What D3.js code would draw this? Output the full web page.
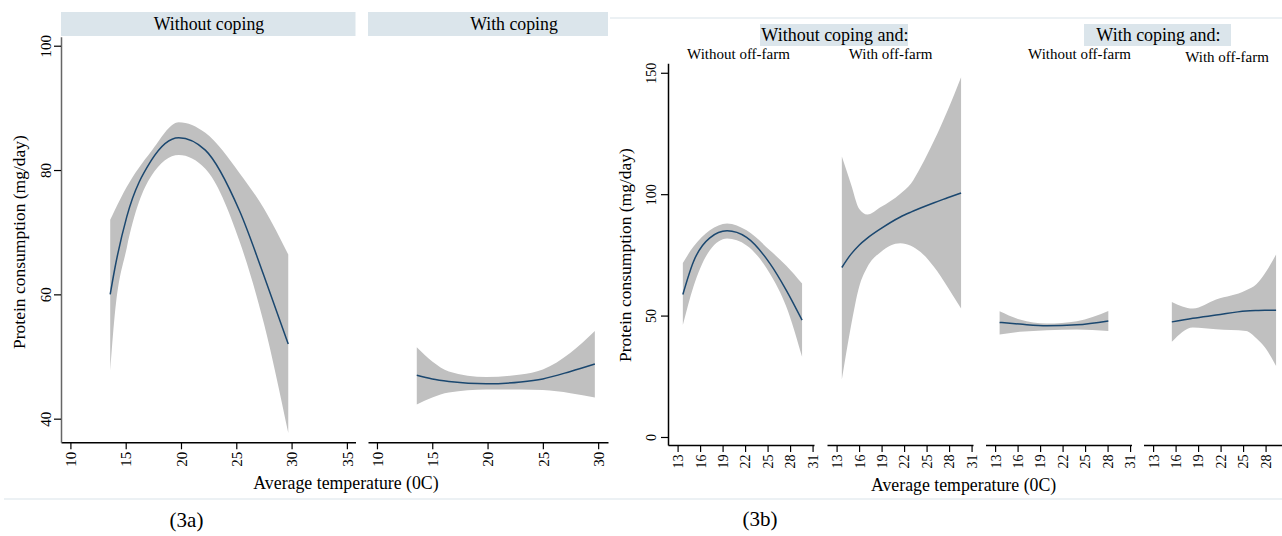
<!DOCTYPE html>
<html>
<head>
<meta charset="utf-8">
<script src="https://cdn.jsdelivr.net/npm/d3@7/dist/d3.min.js"></script>
<style>
  body { margin: 0; background: #fff; }
  text { font-family: "Liberation Serif", "Times New Roman", serif; fill: #000; }
</style>
</head>
<body>
<script>
// ---- data ----

// (3a) without coping
var tempA1 = [13.6, 14.0, 15.1, 17.3, 19.8, 22.2, 25.3, 27.5, 29.7];
var fitA1  = [60.0, 64.0, 72.5, 81.5, 85.2, 83.2, 73.4, 63.0, 52.0];
var loA1   = [47.7, 56.5, 67.5, 79.0, 82.4, 80.2, 68.5, 55.3, 37.7];
var hiA1   = [72.0, 73.5, 77.3, 83.0, 87.7, 86.0, 79.5, 73.8, 66.4];

// (3a) with coping
var tempA2 = [13.6, 15.0, 16.5, 19.9, 23.0, 25.0, 27.5, 29.7];
var fitA2  = [47.0, 46.4, 46.0, 45.6, 45.9, 46.4, 47.6, 48.8];
var loA2   = [42.3, 43.4, 44.2, 44.7, 44.7, 44.6, 44.1, 43.4];
var hiA2   = [51.5, 49.2, 47.6, 46.7, 47.1, 47.9, 50.6, 54.1];

// (3b) without coping, without off-farm
var tempB1 = [13.7, 15.1, 17.3, 19.6, 22.2, 25.3, 27.5, 29.6];
var fitB1  = [58.7, 72.1, 82.0, 84.9, 82.2, 71.5, 60.4, 48.1];
var loB1   = [46.1, 61.8, 76.9, 81.7, 78.9, 67.3, 53.6, 33.0];
var hiB1   = [71.7, 78.3, 85.1, 87.9, 85.1, 76.9, 70.5, 63.2];

// (3b) without coping, with off-farm
var tempB2 = [13.7, 14.9, 16.0, 17.1, 18.9, 21.5, 22.9, 24.2, 26.0, 27.8, 29.6];
var fitB2  = [69.8, 75.2, 79.0, 81.9, 85.8, 90.6, 92.6, 94.3, 96.5, 98.5, 100.5];
var loB2   = [23.7, 45.4, 61.8, 70.0, 76.2, 79.8, 78.8, 76.2, 70.0, 61.8, 52.9];
var hiB2   = [115.5, 104.3, 94.0, 91.6, 94.7, 100.2, 104.3, 111.1, 122.1, 134.5, 148.2];

// (3b) with coping, without off-farm
var tempB3 = [13.6, 16.3, 19.9, 23.9, 28.1];
var fitB3  = [47.2, 46.5, 45.8, 46.2, 47.8];
var loB3   = [42.2, 43.3, 44.0, 44.3, 43.6];
var hiB3   = [51.8, 48.4, 46.7, 47.7, 51.9];

// (3b) with coping, with off-farm
var tempB4 = [15.5, 18.3, 21.4, 25.4, 26.8, 27.9, 29.4];
var fitB4  = [47.4, 48.9, 50.2, 51.9, 52.1, 52.2, 52.2];
var loB4   = [39.2, 45.1, 44.4, 43.7, 40.6, 37.0, 29.2];
var hiB4   = [55.6, 52.9, 56.6, 60.4, 63.0, 67.3, 75.2];

var xTicksA1 = [10, 15, 20, 25, 30, 35];
var xTicksA2 = [10, 15, 20, 25, 30];
var xTicksB  = [13, 16, 19, 22, 25, 28, 31];
var yTicksA  = [40, 60, 80, 100];
var yTicksB  = [0, 50, 100, 150];

var stripA   = ["Without coping", "With coping"];
var groupB   = ["Without coping and:", "With coping and:"];
var subB     = ["Without off-farm", "With off-farm", "Without off-farm", "With off-farm"];

var yTitle = "Protein consumption (mg/day)";
var xTitle = "Average temperature (0C)";

// ---- styles ----
var lineColor = "#1a476f";
var bandColor = "#c0c0c0";
var stripColor = "#dbe5eb";
var ruleColor = "#e6edf1";

var svg = d3.select("body")
            .append("svg")
            .attr("width", 1282)
            .attr("height", 536);

function series(t, fit, lo, hi) {
    return t.map((d, i) => ({ t: d, fit: fit[i], lo: lo[i], hi: hi[i] }));
}

function drawPanel(x, y, data) {
    var area = d3.area()
                 .x((d) => x(d.t))
                 .y0((d) => y(d.lo))
                 .y1((d) => y(d.hi))
                 .curve(d3.curveMonotoneX);
    var line = d3.line()
                 .x((d) => x(d.t))
                 .y((d) => y(d.fit))
                 .curve(d3.curveMonotoneX);
    svg.append("path")
       .datum(data)
       .attr("fill", bandColor)
       .attr("d", area);
    svg.append("path")
       .datum(data)
       .attr("fill", "none")
       .attr("stroke", lineColor)
       .attr("stroke-width", 1.5)
       .attr("d", line);
}

function drawXAxis(x, ticks, yPos, fontSize) {
    var g = svg.append("g")
               .attr("transform", "translate(0," + yPos + ")")
               .call(d3.axisBottom(x).tickValues(ticks).tickSize(7).tickSizeOuter(0));
    g.select(".domain").attr("stroke", "#000").attr("stroke-width", 1.4);
    g.selectAll(".tick line").attr("stroke", "#000").attr("stroke-width", 1.2);
    g.selectAll(".tick text")
     .attr("font-family", "Liberation Serif")
     .attr("font-size", fontSize)
     .attr("fill", "#000")
     .attr("y", 0)
     .attr("x", -9.5)
     .attr("dy", "0.35em")
     .attr("text-anchor", "end")
     .attr("transform", "rotate(-90)");
}

function drawYAxis(y, ticks, xPos, fontSize, gap, color) {
    var g = svg.append("g")
               .attr("transform", "translate(" + xPos + ",0)")
               .call(d3.axisLeft(y).tickValues(ticks).tickSize(7).tickSizeOuter(0));
    g.select(".domain").attr("stroke", color).attr("stroke-width", 1.5);
    g.selectAll(".tick line").attr("stroke", "#000").attr("stroke-width", 1.2);
    g.selectAll(".tick text")
     .attr("font-family", "Liberation Serif")
     .attr("font-size", fontSize)
     .attr("fill", "#000")
     .attr("x", 0)
     .attr("y", 0)
     .attr("dy", 0)
     .attr("text-anchor", "middle")
     .attr("transform", "translate(" + (-gap) + ",0) rotate(-90)");
}

function label(x, y, txt, size, rotate) {
    var t = svg.append("text")
               .attr("font-size", size)
               .attr("text-anchor", "middle")
               .text(txt);
    if (rotate) {
        t.attr("transform", "translate(" + x + "," + y + ") rotate(-90)");
    } else {
        t.attr("x", x).attr("y", y);
    }
    return t;
}

// ---- light rules framing the two figures ----
svg.append("line").attr("x1", 610).attr("x2", 1282).attr("y1", 18).attr("y2", 18)
   .attr("stroke", ruleColor).attr("stroke-width", 1.5);
svg.append("line").attr("x1", 4).attr("x2", 1282).attr("y1", 499).attr("y2", 499)
   .attr("stroke", ruleColor).attr("stroke-width", 1.5);

// ================= (3a) =================
var yA = d3.scaleLinear().domain([36.2, 101.45]).range([442.3, 36.7]);

var panelsA = [
    { x0: 61,  x1: 355.5, dom: [9.15, 35.78], ticks: xTicksA1, data: series(tempA1, fitA1, loA1, hiA1), tx: 209 },
    { x0: 368, x1: 608,   dom: [9.19, 30.89], ticks: xTicksA2, data: series(tempA2, fitA2, loA2, hiA2), tx: 514 }
];

panelsA.forEach((p, i) => {
    var x = d3.scaleLinear().domain(p.dom).range([p.x0, p.x1]);
    // strip header
    svg.append("rect")
       .attr("x", p.x0).attr("y", 12)
       .attr("width", p.x1 - p.x0).attr("height", 24)
       .attr("fill", stripColor);
    label(p.tx, 29.5, stripA[i], 17.8);
    drawPanel(x, yA, p.data);
    drawXAxis(x, p.ticks, 442.3, 15);
});

drawYAxis(yA, yTicksA, 61, 15, 10.5, "#666");
label(19, 242, yTitle, 17.5, true).attr("dy", "0.35em");
label(346, 489, xTitle, 17.8);
label(186.5, 527, "(3a)", 21);

// ================= (3b) =================
var yB = d3.scaleLinear().domain([-3.3, 153.9]).range([445, 63.3]);

var startsB = [668, 827, 985.5, 1143.5];
var widthB = 146;
var dataB = [
    series(tempB1, fitB1, loB1, hiB1),
    series(tempB2, fitB2, loB2, hiB2),
    series(tempB3, fitB3, loB3, hiB3),
    series(tempB4, fitB4, loB4, hiB4)
];
var subX = [738.5, 890.5, 1079.5, 1227];
var subY = [59, 59, 59, 61.5];

startsB.forEach((s, i) => {
    var x = d3.scaleLinear().domain([11.72, 31.19]).range([s, s + widthB]);
    drawPanel(x, yB, dataB[i]);
    drawXAxis(x, xTicksB, 445, 14);
    label(subX[i], subY[i], subB[i], 15);
});

// group headers
var groupBox = [[760, 908], [1084, 1231]];
var groupTx = [835, 1158.5];
groupBox.forEach((b, i) => {
    svg.append("rect")
       .attr("x", b[0]).attr("y", 24)
       .attr("width", b[1] - b[0]).attr("height", 22)
       .attr("fill", stripColor);
    label(groupTx[i], 40.5, groupB[i], 18);
});

drawYAxis(yB, yTicksB, 668, 14, 11.7, "#000");
label(625, 255, yTitle, 17.5, true).attr("dy", "0.35em");
label(963.6, 491, xTitle, 17.8);
label(760, 526, "(3b)", 21);
</script>
</body>
</html>
